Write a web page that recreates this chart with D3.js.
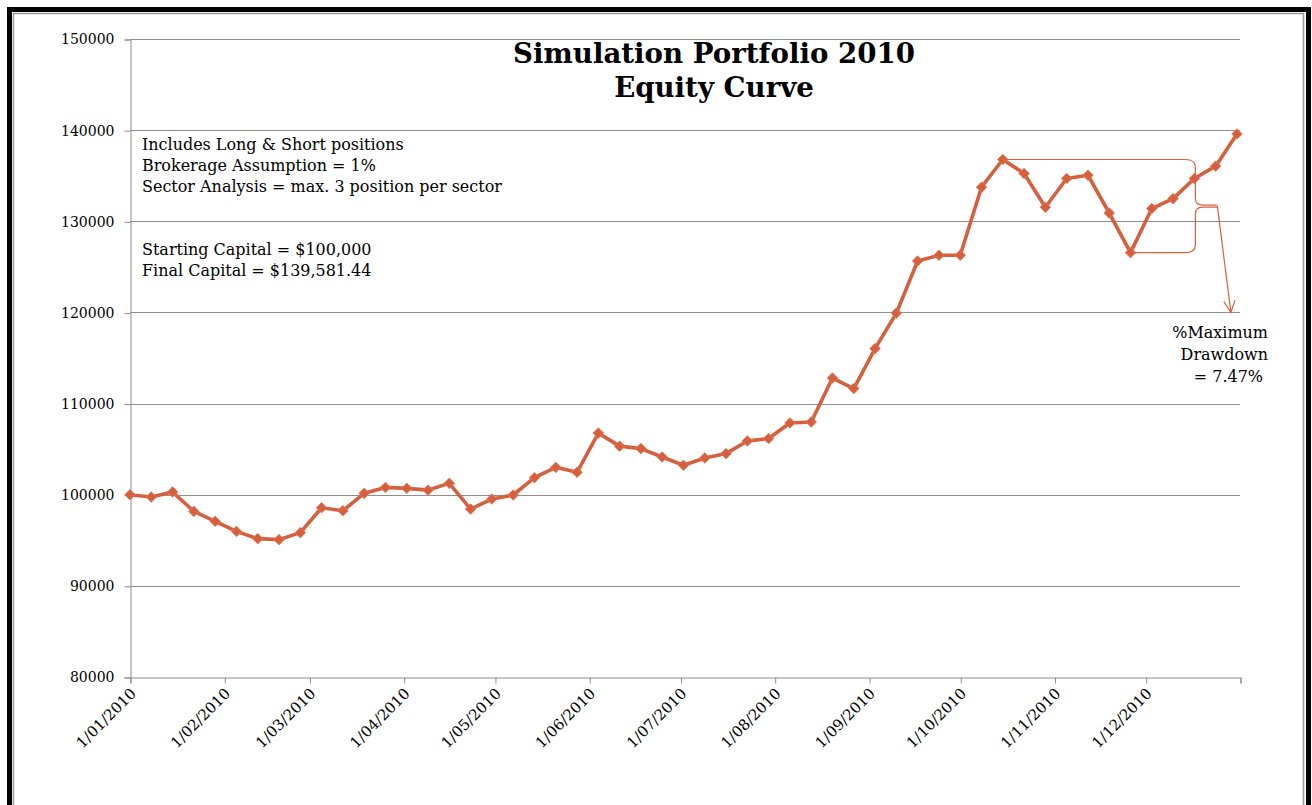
<!DOCTYPE html>
<html><head><meta charset="utf-8">
<script src="https://cdn.jsdelivr.net/npm/d3@7"></script>
<style>body{margin:0;background:#fff}svg{display:block}</style>
</head><body>
<svg id="chart" width="1312" height="805"></svg>
<script>
// ---- data ----
const dates = [
 "2010-01-01","2010-01-08","2010-01-15","2010-01-22","2010-01-29",
 "2010-02-05","2010-02-12","2010-02-19","2010-02-26",
 "2010-03-05","2010-03-12","2010-03-19","2010-03-26",
 "2010-04-02","2010-04-09","2010-04-16","2010-04-23","2010-04-30",
 "2010-05-07","2010-05-14","2010-05-21","2010-05-28",
 "2010-06-04","2010-06-11","2010-06-18","2010-06-25",
 "2010-07-02","2010-07-09","2010-07-16","2010-07-23","2010-07-30",
 "2010-08-06","2010-08-13","2010-08-20","2010-08-27",
 "2010-09-03","2010-09-10","2010-09-17","2010-09-24",
 "2010-10-01","2010-10-08","2010-10-15","2010-10-22","2010-10-29",
 "2010-11-05","2010-11-12","2010-11-19","2010-11-26",
 "2010-12-03","2010-12-10","2010-12-17","2010-12-24","2010-12-31"
];
const equity = [
 100000, 99750, 100300, 98170, 97080,
 95980, 95180, 95070, 95840,
 98570, 98240, 100150, 100800,
 100700, 100500, 101250, 98430, 99530,
 99970, 101870, 103000, 102460,
 106760, 105330, 105060, 104140,
 103230, 104030, 104510, 105900, 106160,
 107870, 107980, 112800, 111650,
 116030, 119930, 125640, 126270,
 126270, 133740, 136780, 135240, 131540,
 134690, 135050, 130910, 126560,
 131400, 132490, 134690, 136050, 139581.44
];
const yTicks = [80000, 90000, 100000, 110000, 120000, 130000, 140000, 150000];
const monthTicks = ["2010-01-01","2010-02-01","2010-03-01","2010-04-01","2010-05-01","2010-06-01",
 "2010-07-01","2010-08-01","2010-09-01","2010-10-01","2010-11-01","2010-12-01","2011-01-01"];
const titleLines = ["Simulation Portfolio 2010", "Equity Curve"];
const noteLines = ["Includes Long & Short positions", "Brokerage Assumption = 1%",
 "Sector Analysis = max. 3 position per sector"];
const capitalLines = ["Starting Capital = $100,000", "Final Capital = $139,581.44"];
const drawdownLines = ["%Maximum", "Drawdown", "= 7.47%"];
const peakIndex = 41, troughIndex = 47, bracketIndex = 50;
const arrowTarget = {date: "2010-12-29", value: 120000};

// ---- layout ----
const parse = d3.timeParse("%Y-%m-%d");
const W = 1312, H = 805;
const plot = {left: 130, right: 1240, top: 39, bottom: 677};
const lineColor = "#D6603E";
const gridColor = "#8E8E8E";
const serif = "'DejaVu Serif', 'Liberation Serif', serif";

const svg = d3.select("#chart");
svg.append("rect").attr("width", W).attr("height", H).attr("fill", "#fff");

// frame
svg.append("rect").attr("x", 9.5).attr("y", 9.5).attr("width", 1299).attr("height", 830)
  .attr("fill", "none").attr("stroke", "#000").attr("stroke-width", 5);
svg.append("rect").attr("x", 13.5).attr("y", 13.5).attr("width", 1290).attr("height", 820)
  .attr("fill", "none").attr("stroke", "#9a9a9a").attr("stroke-width", 1.5);

const x = d3.scaleTime().domain([parse("2010-01-01"), parse("2011-01-01")]).range([plot.left, plot.right]);
const y = d3.scaleLinear().domain([80000, 150000]).range([plot.bottom, plot.top]);

// gridlines
svg.append("g").selectAll("line").data(yTicks.filter(v => v > 80000)).join("line")
  .attr("x1", plot.left).attr("x2", plot.right)
  .attr("y1", d => Math.round(y(d)) + 0.5).attr("y2", d => Math.round(y(d)) + 0.5)
  .attr("stroke", gridColor).attr("stroke-width", 1);

// y axis
const yAxis = svg.append("g").attr("transform", `translate(${plot.left + 0.5},0.5)`)
  .call(d3.axisLeft(y).tickValues(yTicks).tickSize(6).tickPadding(10).tickFormat(d3.format("d")));
yAxis.select(".domain").attr("stroke", gridColor);
yAxis.selectAll(".tick line").attr("stroke", gridColor);
yAxis.selectAll("text").attr("font-family", serif).attr("font-size", 14).attr("fill", "#000");

// x axis
const fmt = d3.timeFormat("%-d/%m/%Y");
const xAxis = svg.append("g").attr("transform", `translate(0.5,${plot.bottom + 0.5})`)
  .call(d3.axisBottom(x).tickValues(monthTicks.map(parse)).tickSize(6)
    .tickFormat(d => d.getFullYear() === 2010 ? fmt(d) : ""));
xAxis.select(".domain").attr("stroke", gridColor);
xAxis.selectAll(".tick line").attr("stroke", gridColor);
xAxis.selectAll("text").attr("font-family", serif).attr("font-size", 15).attr("fill", "#000")
  .attr("text-anchor", "end").attr("dy", 0).attr("y", 0)
  .attr("transform", "translate(6,17) rotate(-45)");

// line + markers
const pts = dates.map((d, i) => ({date: parse(d), value: equity[i]}));
svg.append("path").datum(pts)
  .attr("d", d3.line().x(d => x(d.date)).y(d => y(d.value)))
  .attr("fill", "none").attr("stroke", lineColor).attr("stroke-width", 3.6)
  .attr("stroke-linejoin", "round");
svg.append("g").selectAll("path").data(pts).join("path")
  .attr("d", d3.symbol(d3.symbolSquare, 56)())
  .attr("transform", d => `translate(${x(d.date)},${y(d.value)}) rotate(45)`)
  .attr("fill", lineColor).attr("stroke", "#E07A5A").attr("stroke-width", 0.8);

// drawdown bracket annotation
const py = y(equity[peakIndex]), ty = y(equity[troughIndex]);
const px = x(parse(dates[peakIndex])), tx = x(parse(dates[troughIndex]));
const bx = x(parse(dates[bracketIndex])) + 1;
const my = (py + ty) / 2;
const tipX = bx + 22;
const ann = svg.append("g").attr("fill", "none").attr("stroke", lineColor).attr("stroke-width", 1.2);
ann.append("path").attr("d",
  `M${px},${py} H${bx - 10} Q${bx},${py} ${bx},${py + 8} V${my - 8} Q${bx},${my - 1} ${bx + 7},${my - 1} H${tipX}`);
ann.append("path").attr("d",
  `M${tipX},${my + 1} H${bx + 7} Q${bx},${my + 1} ${bx},${my + 8} V${ty - 8} Q${bx},${ty} ${bx - 10},${ty} H${tx}`);
const ax = x(parse(arrowTarget.date)), ay = y(arrowTarget.value);
ann.append("path").attr("d", `M${tipX},${my} L${ax},${ay}`);
const ang = Math.atan2(ay - my, ax - tipX);
const hl = 13, ha = 0.45;
ann.append("path").attr("d",
  `M${ax - hl * Math.cos(ang - ha)},${ay - hl * Math.sin(ang - ha)} L${ax},${ay} L${ax - hl * Math.cos(ang + ha)},${ay - hl * Math.sin(ang + ha)}`);

// helper: fit font size to a target width
function fitSize(text, weight, target) {
  const t = svg.append("text").attr("font-family", serif).attr("font-weight", weight)
    .attr("font-size", 100).text(text);
  const w = t.node().getComputedTextLength();
  t.remove();
  return 100 * target / w;
}

// title
const titleSize = fitSize(titleLines[0], "bold", 402);
svg.append("g").selectAll("text").data(titleLines).join("text")
  .attr("x", 714).attr("y", (d, i) => 63 + i * 34)
  .attr("text-anchor", "middle").attr("font-family", serif).attr("font-weight", "bold")
  .attr("font-size", titleSize).attr("fill", "#000").text(d => d);

// notes
const noteSize = fitSize(noteLines[2], "normal", 360);
svg.append("g").selectAll("text").data(noteLines).join("text")
  .attr("x", 142).attr("y", (d, i) => 150 + i * 21)
  .attr("font-family", serif).attr("font-size", noteSize).attr("fill", "#000").text(d => d);
svg.append("g").selectAll("text").data(capitalLines).join("text")
  .attr("x", 142).attr("y", (d, i) => 255 + i * 21)
  .attr("font-family", serif).attr("font-size", noteSize).attr("fill", "#000").text(d => d);

// drawdown label
svg.append("g").selectAll("text").data(drawdownLines).join("text")
  .attr("x", (d, i) => i === 2 ? 1263 : 1268).attr("y", (d, i) => 338 + i * 22)
  .attr("text-anchor", "end").attr("font-family", serif).attr("font-size", noteSize)
  .attr("fill", "#000").text(d => d);
</script>
</body></html>
